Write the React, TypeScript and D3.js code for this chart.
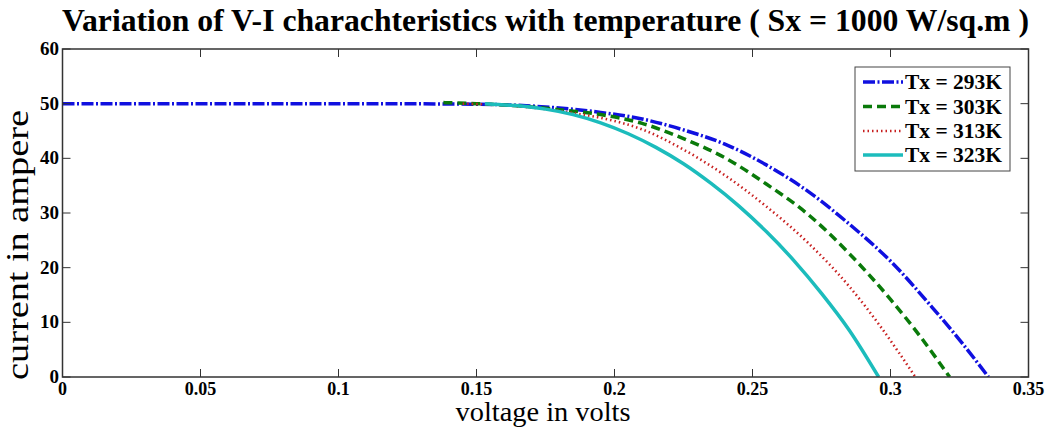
import React from "react";
import * as d3 from "d3";

// ---- data ----
const xTicks = [0, 0.05, 0.1, 0.15, 0.2, 0.25, 0.3, 0.35];
const yTicks = [0, 10, 20, 30, 40, 50, 60];

const v293 = [0, 0.05, 0.1, 0.15, 0.165, 0.18, 0.195, 0.21, 0.225, 0.24, 0.255, 0.27, 0.285, 0.3, 0.315, 0.325, 0.3355];
const i293 = [50, 50, 50, 49.9, 49.7, 49.2, 48.4, 47.2, 45.2, 42.6, 38.8, 34.0, 28.0, 21.2, 12.8, 6.8, 0];

const v303 = [0.138, 0.15, 0.165, 0.18, 0.195, 0.21, 0.225, 0.24, 0.255, 0.27, 0.285, 0.3, 0.3105, 0.3214];
const i303 = [50.2, 50, 49.6, 48.9, 48.0, 46.4, 43.6, 40.1, 35.3, 29.8, 22.6, 14.2, 7.6, 0];

const v313 = [0.145, 0.16, 0.175, 0.185, 0.195, 0.21, 0.225, 0.24, 0.255, 0.27, 0.285, 0.297, 0.309];
const i313 = [50, 49.7, 49.0, 48.3, 47.4, 45.3, 41.6, 36.9, 31.2, 24.6, 16.6, 8.8, 0];

const v323 = [0.153, 0.165, 0.175, 0.185, 0.195, 0.205, 0.215, 0.225, 0.235, 0.245, 0.255, 0.265, 0.275, 0.285, 0.2957];
const i323 = [50, 49.6, 49.0, 48.0, 46.5, 44.5, 42.0, 39.0, 35.4, 31.3, 26.6, 21.3, 15.3, 8.6, 0];

const seriesNames = ["Tx = 293K", "Tx = 303K", "Tx = 313K", "Tx = 323K"];

const titleText = "Variation of V-I charachteristics with temperature ( Sx = 1000 W/sq.m )";
const xLabel = "voltage in volts";
const yLabel = "current in ampere";

// ---- styles ----
const styles = [
  { color: "#1010e0", width: 3.5, dash: "12,2.5,2,2.5" },
  { color: "#0a7a0a", width: 3.5, dash: "9,5" },
  { color: "#c82020", width: 2.6, dash: "1.5,3" },
  { color: "#1cbcbc", width: 3.5, dash: "" },
];

const W = 1047;
const H = 428;
const L = 62.5, R = 1028.5, T = 49, B = 377;
const FONT = "Liberation Serif, Times New Roman, serif";

export default function App() {
  const x = d3.scaleLinear().domain([0, 0.35]).range([L, R]);
  const y = d3.scaleLinear().domain([0, 60]).range([B, T]);

  const series = [
    { v: v293, i: i293 },
    { v: v303, i: i303 },
    { v: v313, i: i313 },
    { v: v323, i: i323 },
  ];

  const line = d3
    .line<[number, number]>()
    .x((d) => x(d[0]))
    .y((d) => y(d[1]))
    .curve(d3.curveMonotoneX);

  const tickLen = 8;
  const axisColor = "#333";

  // legend layout
  const lgX = 855, lgY = 67, lgW = 155, lgH = 104;
  const rowY = [82, 106.5, 131, 155];

  return (
    <svg
      width={W}
      height={H}
      style={{ position: "absolute", left: 0, top: 0, background: "#fff" }}
      fontFamily={FONT}
    >
      <rect x={0} y={0} width={W} height={H} fill="#fff" />
      {/* title */}
      <text
        x={(L + R) / 2}
        y={31}
        textAnchor="middle"
        fontSize={32}
        fontWeight="bold"
        textLength={967}
        lengthAdjust="spacingAndGlyphs"
        fill="#000"
      >
        {titleText}
      </text>

      <defs>
        <clipPath id="plotclip">
          <rect x={L} y={T - 5} width={R - L} height={B - T + 5} />
        </clipPath>
      </defs>

      {/* curves */}
      <g clipPath="url(#plotclip)">
        {series.map((s, k) => (
          <path
            key={k}
            d={line(s.v.map((v, j) => [v, s.i[j]] as [number, number])) || ""}
            fill="none"
            stroke={styles[k].color}
            strokeWidth={styles[k].width}
            strokeDasharray={styles[k].dash || undefined}
          />
        ))}
      </g>

      {/* axes box */}
      <rect x={L} y={T} width={R - L} height={B - T} fill="none" stroke={axisColor} strokeWidth={1.5} />

      {/* x ticks */}
      {xTicks.map((t) => (
        <g key={"x" + t}>
          <line x1={x(t)} x2={x(t)} y1={B} y2={B - tickLen} stroke={axisColor} strokeWidth={1} />
          <line x1={x(t)} x2={x(t)} y1={T} y2={T + tickLen} stroke={axisColor} strokeWidth={1} />
          <text x={x(t)} y={395} textAnchor="middle" fontSize={18} fontWeight="bold" fill="#000">
            {String(t)}
          </text>
        </g>
      ))}

      {/* y ticks */}
      {yTicks.map((t) => (
        <g key={"y" + t}>
          <line x1={L} x2={L + tickLen} y1={y(t)} y2={y(t)} stroke={axisColor} strokeWidth={1} />
          <line x1={R} x2={R - tickLen} y1={y(t)} y2={y(t)} stroke={axisColor} strokeWidth={1} />
          <text x={59} y={y(t) + 6} textAnchor="end" fontSize={19} fontWeight="bold" fill="#000">
            {String(t)}
          </text>
        </g>
      ))}

      {/* axis labels */}
      <text
        x={543}
        y={421}
        textAnchor="middle"
        fontSize={27}
        textLength={175}
        lengthAdjust="spacingAndGlyphs"
        fill="#000"
      >
        {xLabel}
      </text>
      <text
        transform={`translate(28,245) rotate(-90)`}
        textAnchor="middle"
        fontSize={31}
        textLength={270}
        lengthAdjust="spacingAndGlyphs"
        fill="#000"
      >
        {yLabel}
      </text>

      {/* legend */}
      <rect x={lgX} y={lgY} width={lgW} height={lgH} fill="#fff" stroke="#444" strokeWidth={1} />
      {seriesNames.map((name, k) => (
        <g key={name}>
          <line
            x1={863}
            x2={903}
            y1={rowY[k]}
            y2={rowY[k]}
            stroke={styles[k].color}
            strokeWidth={styles[k].width}
            strokeDasharray={styles[k].dash || undefined}
          />
          <text x={905} y={rowY[k] + 7} fontSize={21.5} fontWeight="bold" fill="#000">
            {name}
          </text>
        </g>
      ))}
    </svg>
  );
}
